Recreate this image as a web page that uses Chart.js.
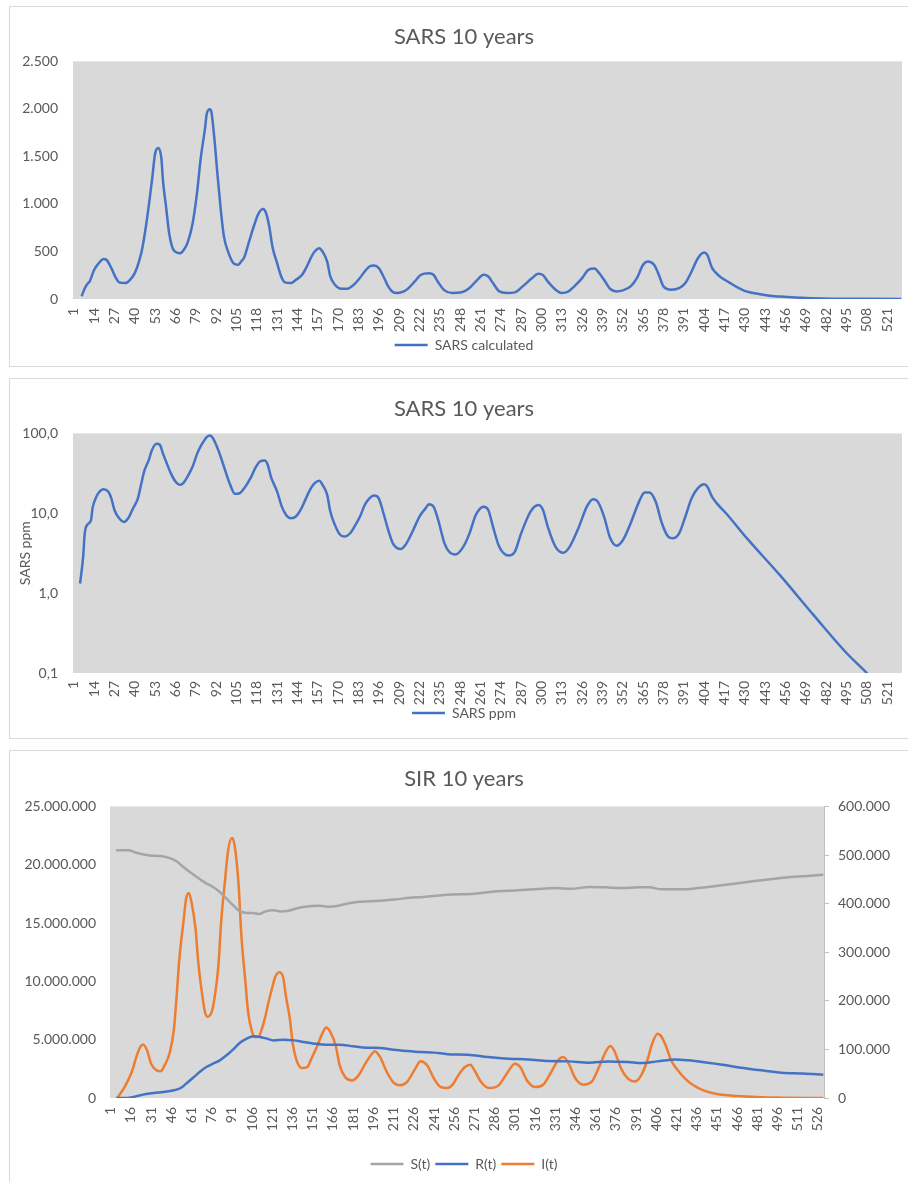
<!DOCTYPE html>
<html>
<head>
<meta charset="utf-8">
<script src="https://cdn.jsdelivr.net/npm/chart.js@4.4.1/dist/chart.umd.min.js"></script>
<style>
html,body{margin:0;padding:0;background:#fff;overflow:hidden;width:908px;height:1182px;}
.box{position:absolute;left:9px;width:940px;border:1px solid #d9d9d9;box-sizing:border-box;background:#fff;}
.wrap{position:absolute;left:10px;width:908px;}
</style>
</head>
<body>
<div class="box" style="top:6px;height:361px"></div>
<div class="box" style="top:378px;height:361px"></div>
<div class="box" style="top:750px;height:500px"></div>
<div class="wrap" style="top:7px;height:358px"><canvas id="c1"></canvas></div>
<div class="wrap" style="top:379px;height:358px"><canvas id="c2"></canvas></div>
<div class="wrap" style="top:751px;height:431px"><canvas id="c3"></canvas></div>
<script>
// ---------- data ----------
const calcDays = [6,8,10,11,14,17,20,22,25,28, 30,34,37,40,43,45,48,51,53,55, 57,58,60,62,65,69,72,74,77,80,
  82,85,86,88,89,91,93,95,97,100, 103,106,108,110,113,116,119,122,124,126, 128,131,134,136,140,143,147,150,153,155,
  158,160,163,165,168,172,176,180,183,187, 190,193,196,199,202,205,208,212,215,219, 223,228,231,234,238,243,249,254,259,263,
  266,269,273,278,283,288,294,298,301,304, 309,313,317,321,326,330,334,336,340,344, 348,352,357,361,365,368,372,375,378,383,
  388,392,396,400,404,406,409,411,414,420, 425,431,439,446,455,463,474,485,506,530];
const calcValues = [28,110,165,180,305,377,420,410,325,220, 175,168,202,272,412,550,865,1250,1530,1590, 1480,1250,970,690,510,482,534,604,796,1145,
  1460,1808,1947,1996,1965,1668,1284,935,656,482, 377,360,394,440,600,760,895,946,900,761, 551,377,220,175,168,202,255,342,447,500,
  534,500,394,237,150,108,108,150,202,290, 342,352,325,237,133,73,63,80,115,185, 255,272,255,175,91,63,70,115,202,255,
  237,168,80,63,70,133,220,265,251,185, 98,63,77,133,220,307,320,290,202,105, 80,91,133,220,360,394,360,255,133,98,
  115,168,290,429,489,464,330,285,237,175, 126,80,52,35,24,17,7,3,2,1];

const ppmDays = [5,7,8,10,12,13,15,17,20,23, 25,27,30,33,36,39,42,44,46,49, 51,54,56,58,60,63,66,69,71,74,
  77,80,83,86,88,90,92,95,98,101, 104,107,110,114,117,120,123,125,127,131, 134,137,140,143,146,149,152,155,158,160,
  163,165,168,171,174,178,181,184,187,190, 193,196,199,202,205,210,213,216,219,222, 226,228,231,234,238,241,245,250,254,258,
  263,266,269,273,279,283,287,293,298,301, 304,309,314,318,324,329,333,336,340,344, 348,352,357,362,366,369,373,377,381,384,
  388,392,396,400,404,406,409,412,418,431, 453,474,495,508,520,530];
const ppmValues = [1.32,2.86,5.6,7.3,8.2,11.6,15.4,18.2,20,18.7, 15.4,11,8.65,7.8,8.8,11.6,15.4,22.7,33.4,46.7,
  62,74,72,56,44.5,31.8,25,22.7,23.8,29.4, 38.5,56.6,74,90,94.4,87,72,50.5,33.4,22.7,
  17.5,17.8,20.6,27.5,36.7,44.5,45.8,40.5,28.8,18.7, 12.1,9.35,8.65,9.1,11,14.7,19.6,23.8,25.5,22.7,
  17,10.5,7.1,5.45,5.1,5.7,7.1,9.1,12.7,15.4, 16.7,15.4,10,6.2,4.2,3.56,4.0,5.1,6.8,9.1,
  11.6,13,12.1,8.2,4.2,3.3,3.05,3.8,5.6,9.5, 12.1,11,6.8,3.8,2.95,3.3,5.6,10.5,12.7,11,
  6.8,3.8,3.2,3.8,6.8,12.1,15,14,9.1,4.85, 3.93,4.6,7.5,13.4,18.2,18.2,14,7.5,5.1,4.85,
  5.6,9.1,15.4,20.6,23.1,21.6,16.2,13.4,10,4.95, 1.63,0.53,0.178,0.1,0.055,0.034];

const sDays = [5,14,20,30,38,45,50,54,59,65, 71,77,82,87,92,96,101,107,111,116, 122,127,132,138,144,150,156,163,169,176,
  184,194,204,213,223,233,241,251,271,286, 301,316,331,343,356,368,380,393,401,410, 425,437,450,464,479,494,509,530];
const sValues = [21230000,21230000,21030000,20800000,20740000,20570000,20290000,19890000,19430000,18940000,
  18460000,18090000,17660000,17090000,16510000,16090000,15890000,15860000,15770000,16000000,
  16090000,16000000,16030000,16230000,16370000,16460000,16490000,16400000,16460000,16660000,
  16800000,16860000,16940000,17030000,17170000,17230000,17310000,17430000,17510000,17710000,
  17800000,17890000,18000000,17940000,18090000,18060000,18000000,18060000,18060000,17890000,
  17890000,18000000,18170000,18370000,18600000,18800000,18970000,19140000];

const rDays = [5,13,18,25,33,40,48,53,57,62, 67,72,77,82,87,92,97,102,107,112, 117,122,129,137,144,152,161,171,181,191,
  201,211,221,231,241,251,266,281,296,311, 326,341,356,370,385,395,407,420,430,440, 455,469,484,499,515,530];
const rValues = [0,0,90000,290000,430000,510000,660000,860000,1230000,1710000,
  2230000,2660000,2940000,3230000,3660000,4170000,4740000,5090000,5290000,5230000,
  5090000,4940000,5000000,4940000,4800000,4660000,4570000,4570000,4430000,4310000,
  4290000,4140000,4030000,3940000,3890000,3760000,3710000,3510000,3370000,3310000,
  3170000,3140000,3030000,3140000,3090000,3000000,3140000,3310000,3230000,3090000,
  2860000,2600000,2370000,2170000,2100000,2000000];

const iDays = [6,12,17,20,23,25,28,31,35,38, 41,45,48,50,52,55,57,59,61,64, 66,69,71,73,76,78,81,83,86,88,
  91,93,96,98,101,103,106,108,111,113, 116,118,121,123,126,129,131,134,136,139, 143,147,150,154,158,161,164,168,171,175,
  180,185,190,195,197,201,206,211,216,221, 227,231,236,241,246,251,255,259,264,268, 271,276,282,289,295,301,305,310,316,322,
  328,333,337,341,346,352,358,364,369,372, 375,380,385,390,394,399,403,407,410,414, 417,422,427,433,441,450,459,469,484,499, 530];
const iValues = [0,26000,56000,84000,105000,110000,98000,70600,57000,55000,
  67000,94600,142600,211000,287000,362000,410000,422000,403000,348000,
  280000,211000,177000,167000,177000,204000,273000,362000,451000,506000,
  535000,520000,437000,335000,239000,177000,136000,125500,127000,140000,
  170000,195000,228000,248000,259000,249000,211000,163000,115000,77500,
  61700,63800,81000,105000,132000,145000,136000,108000,67000,43000,
  36000,46600,70600,91000,96000,84000,53500,31500,26000,33000,
  60000,75400,67000,40000,22600,20600,28000,46600,63800,68600,
  57000,33000,20600,26000,50000,70600,63800,36000,22600,27400,
  53500,77500,84300,70600,40000,27400,33000,67000,98000,107000,
  96000,60000,40000,34000,43000,74000,112000,132000,125500,101000,
  77500,57000,41000,27400,15800,8900,5500,3400,1400,700, 0];

// tick labels
const xTicks13 = [1,14,27,40,53,66,79,92,105,118,131,144,157,170,183,196,209,222,235,248,261,274,287,300,313,326,339,352,365,378,391,404,417,430,443,456,469,482,495,508,521];
const xTicks15 = [1,16,31,46,61,76,91,106,121,136,151,166,181,196,211,226,241,256,271,286,301,316,331,346,361,376,391,406,421,436,451,466,481,496,511,526];
const yTicksCalc = [0,500,1000,1500,2000,2500];
const yTicksPpm = [0.1,1,10,100];
const yTicksLeft = [0,5000000,10000000,15000000,20000000,25000000];
const yTicksRight = [0,100000,200000,300000,400000,500000,600000];

// ---------- helpers ----------
const FONT = 'Lato';
const TXT = '#595959';
const BLUE = '#4472C4', ORANGE = '#ED7D31', GRAY = '#A5A5A5';
function pts(days, vals){ return days.map((d,i)=>({x:d, y:vals[i]})); }
function fmtDots(v){ return Math.round(v).toString().replace(/\B(?=(\d{3})+(?!\d))/g,'.'); }
function fmtComma(v){ return Number(v).toFixed(1).replace('.',','); }

const plotBg = { id:'plotBg', beforeDraw(chart){ const a = chart.chartArea, ctx = chart.ctx; ctx.save(); ctx.fillStyle = '#d9d9d9'; ctx.fillRect(a.left, a.top, a.right-a.left, a.bottom-a.top); ctx.restore(); } };

function xScale(ticks, h, pad){
  return { type:'linear', min:0.5, max:530.5,
    afterBuildTicks: s => { s.ticks = ticks.map(v=>({value:v})); },
    afterFit: s => { s.height = h; },
    grid:{display:false, drawTicks:false}, border:{display:false},
    ticks:{autoSkip:false, minRotation:90, maxRotation:90, padding:pad, color:TXT, font:{family:FONT,size:14}, callback: v => String(v)} };
}
function yScale(ticks, w, pad, fmt, extra){
  return Object.assign({
    afterBuildTicks: s => { s.ticks = ticks.map(v=>({value:v})); },
    afterFit: s => { s.width = w; },
    grid:{display:false, drawTicks:false}, border:{display:false},
    ticks:{padding:pad, color:TXT, font:{family:FONT,size:14}, callback: v => fmt(v)} }, extra);
}
// empty right-hand spacer so that title and legend stay centred on the whole box
function spacer(w){
  return {type:'linear', position:'right', display:true, afterFit: s => { s.width = w; },
    grid:{display:false, drawTicks:false}, border:{display:false}, ticks:{display:false}};
}
function titleOpt(text, top, bottom){
  return {display:true, text, color:TXT, font:{family:FONT,size:22,weight:'normal'}, padding:{top, bottom}};
}
function legendOpt(p){
  return {position:'bottom', labels:{usePointStyle:true, pointStyle:'line', pointStyleWidth:33, color:TXT, font:{family:FONT,size:14}, padding:p}};
}
function line(label, data, color, w){
  return {label, data, borderColor:color, backgroundColor:color, borderWidth:w, pointRadius:0, fill:false, cubicInterpolationMode:'monotone'};
}
Chart.defaults.animation = false;
Chart.defaults.font.family = FONT;

// ---------- chart 1 ----------
new Chart(document.getElementById('c1'), {
  type:'line',
  data:{datasets:[line('SARS calculated', pts(calcDays, calcValues), BLUE, 2.5)]},
  options:{responsive:true, maintainAspectRatio:false,
    layout:{padding:{left:0,right:0,top:0,bottom:3}},
    plugins:{title:titleOpt('SARS 10 years',17,11), legend:legendOpt(5), tooltip:{enabled:false}},
    scales:{
      x:xScale(xTicks13, 34, 9),
      y:yScale(yTicksCalc, 63, 15, fmtDots, {min:0, max:2500}),
      yr:spacer(16)
    }},
  plugins:[plotBg]
});

// ---------- chart 2 ----------
new Chart(document.getElementById('c2'), {
  type:'line',
  data:{datasets:[line('SARS ppm', pts(ppmDays, ppmValues), BLUE, 2.5)]},
  options:{responsive:true, maintainAspectRatio:false,
    layout:{padding:{left:0,right:0,top:0,bottom:7}},
    plugins:{title:titleOpt('SARS 10 years',17,11), legend:legendOpt(0), tooltip:{enabled:false}},
    scales:{
      x:xScale(xTicks13, 33, 8),
      y:yScale(yTicksPpm, 63, 15, fmtComma, {type:'logarithmic', min:0.1, max:100,
        title:{display:true, text:'SARS ppm', color:TXT, font:{family:FONT,size:14}, padding:{top:7,bottom:0}}}),
      yr:spacer(16)
    }},
  plugins:[plotBg]
});

// ---------- chart 3 ----------
new Chart(document.getElementById('c3'), {
  type:'line',
  data:{datasets:[
    line('S(t)', pts(sDays, sValues), GRAY, 2.5),
    line('R(t)', pts(rDays, rValues), BLUE, 2.5),
    Object.assign(line('I(t)', pts(iDays, iValues), ORANGE, 2.5), {yAxisID:'y2'})
  ]},
  options:{responsive:true, maintainAspectRatio:false,
    layout:{padding:{left:0,right:0,top:0,bottom:1}},
    plugins:{title:titleOpt('SIR 10 years',15,14), legend:legendOpt(5), tooltip:{enabled:false}},
    scales:{
      x:xScale(xTicks15, 54, 9),
      y:yScale(yTicksLeft, 100, 14, fmtDots, {min:0, max:25000000}),
      y2:yScale(yTicksRight, 94, 9, fmtDots, {position:'right', min:0, max:600000,
        grid:{display:true, drawOnChartArea:false, drawTicks:true, tickLength:5, color:'#bfbfbf'},
        border:{display:true, color:'#bfbfbf', width:1}})
    }},
  plugins:[plotBg]
});
</script>
</body>
</html>
